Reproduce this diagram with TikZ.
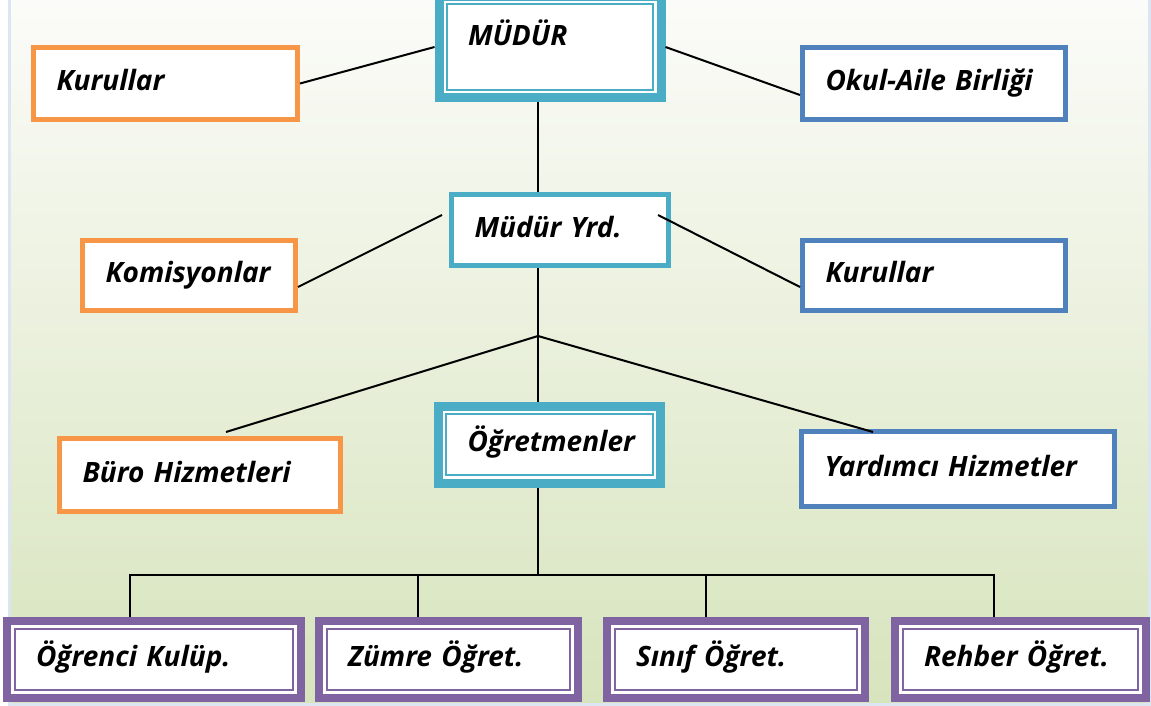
\documentclass[tikz,border=0pt]{standalone}
\usepackage{fontspec}
\setmainfont{Open Sans}
\definecolor{aqua}{HTML}{4BACC6}
\definecolor{orng}{HTML}{F79646}
\definecolor{blu}{HTML}{4F81BD}
\definecolor{purp}{HTML}{8064A2}
\definecolor{bgtop}{HTML}{FCFCFA}
\definecolor{bgbottom}{HTML}{D7E4BD}
\definecolor{edge}{HTML}{DCE6F2}
\begin{document}
\begin{tikzpicture}[x=0.5pt, y=-0.5pt,
    box/.style 2 args={draw, fill=white, text width=#1, minimum height=#2,
      inner ysep=0pt, align=left, text height=10pt, text depth=3pt,
      font=\bfseries\itshape\fontsize{14}{16}\selectfont},
    single/.style={draw=#1, line width=2.5pt, inner xsep=11.5pt},
    framed/.style 2 args={draw=#1, line width=#2, inner xsep=14.5pt,
      path picture={\draw[#1, line width=1pt]
        ([shift={(3.8pt,-3.8pt)}]path picture bounding box.north west) rectangle
        ([shift={(-3.8pt,3.8pt)}]path picture bounding box.south east);}},
    link/.style={draw=black, line width=1pt}]
  \useasboundingbox (0,0) rectangle (1151,706);
  \clip (0,0) rectangle (1151,706);
  \fill[white] (0,0) rectangle (1151,706);
  \shade[top color=bgtop, bottom color=bgbottom, draw=edge, line width=1.5pt]
    (9,-10) rectangle (1149,704);

  % top row
  \node[box={82pt}{50.5pt}, framed={aqua}{4.5pt}, text depth=11pt] (mudur) at (550,47) {MÜDÜR};
  \node[box={109pt}{36pt}, single=orng] (kurul1) at (165.5,83.5) {Kurullar};
  \node[box={108.5pt}{36pt}, single=blu] (okul) at (934,83.5) {Okul-Aile Birliği};

  % second row
  \node[box={85.5pt}{35.5pt}, single=aqua] (yrd) at (560,230) {Müdür Yrd.};
  \node[box={83.5pt}{35pt}, single=orng] (komisyon) at (189,275.5) {Komisyonlar};
  \node[box={108.5pt}{35pt}, single=blu] (kurul2) at (934,275.5) {Kurullar};

  % third row
  \node[box={82pt}{38.5pt}, framed={aqua}{4.5pt}] (ogretmen) at (549.5,444.5) {Öğretmenler};
  \node[box={117.5pt}{36.5pt}, single=orng] (buro) at (200,475) {Büro Hizmetleri};
  \node[box={133.5pt}{37.5pt}, single=blu] (yardimci) at (958,469) {Yardımcı Hizmetler};

  % bottom row
  \node[box={118pt}{38.5pt}, framed={purp}{4pt}] (kulup) at (154,659.5) {Öğrenci Kulüp.};
  \node[box={100.5pt}{38.5pt}, framed={purp}{4pt}] (zumre) at (448.5,659.5) {Zümre Öğret.};
  \node[box={100pt}{38.5pt}, framed={purp}{4pt}] (sinif) at (736,659.5) {Sınıf Öğret.};
  \node[box={96.5pt}{38.5pt}, framed={purp}{4pt}] (rehber) at (1020.5,659.5) {Rehber Öğret.};

  \coordinate (hub) at (538,336);
  \coordinate (bus) at (538,575);

  % connectors
  \draw[link] (kurul1.east) -- (mudur.west);
  \draw[link] (mudur.east) -- ([yshift=-5.75pt]okul.west);
  \draw[link] (mudur.south -| hub) -- (yrd.north -| hub);
  \draw[link] ([shift={(-3.5pt,7.5pt)}]yrd.west) -- ([yshift=-5.75pt]komisyon.east);
  \draw[link] ([shift={(-6.5pt,7.5pt)}]yrd.east) -- ([yshift=-5.75pt]kurul2.west);
  \draw[link] (yrd.south -| hub) -- (hub) -- (ogretmen.north -| hub);
  \draw[link] (hub) -- ([shift={(13pt,2pt)}]buro.north);
  \draw[link] (hub) -- ([shift={(-42.5pt,-1.5pt)}]yardimci.north);
  \draw[link] (ogretmen.south -| hub) -- (bus);
  \draw[link] ([xshift=-12pt]kulup.north) |- (bus) -| ([xshift=-13.25pt]rehber.north);
  \draw[link] ([xshift=-15.25pt]zumre.north) -- ([xshift=-15.25pt]zumre.north |- bus);
  \draw[link] ([xshift=-15pt]sinif.north) -- ([xshift=-15pt]sinif.north |- bus);
\end{tikzpicture}
\end{document}
